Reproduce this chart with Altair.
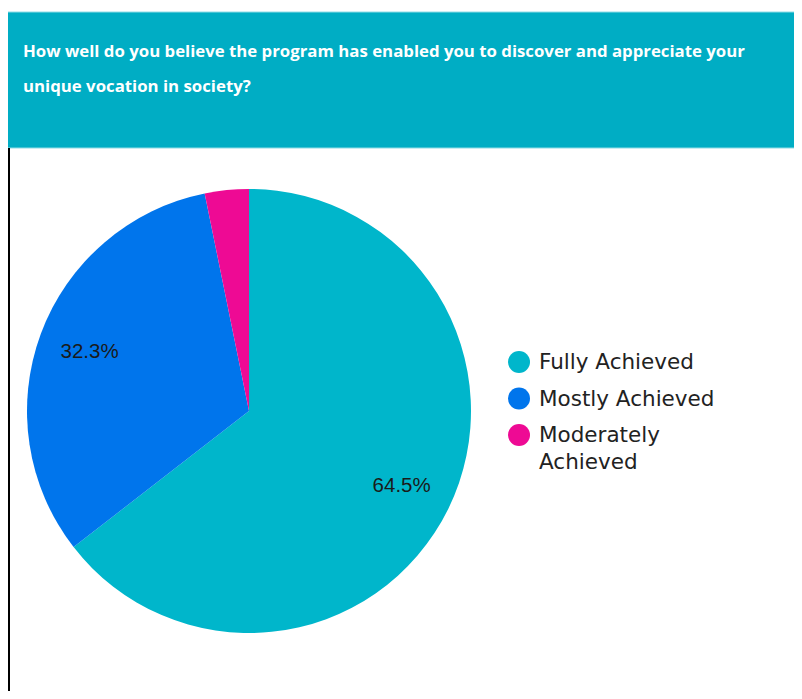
import altair as alt
import pandas as pd

# ---- data ----
categories = ["Fully Achieved", "Mostly Achieved", "Moderately Achieved"]
percents = [64.5, 32.3, 3.2]
slice_labels = ["64.5%", "32.3%", ""]
legend_text = ["Fully Achieved", "Mostly Achieved", "Moderately\nAchieved"]
colors = ["#00B6CB", "#0075EC", "#EE0A94"]
title_lines = [
    "How well do you believe the program has enabled you to discover and appreciate your",
    "unique vocation in society?",
]

df = pd.DataFrame({
    "cat": categories,
    "pct": percents,
    "idx": list(range(len(categories))),
    "label": slice_labels,
    "legend": legend_text,
})
title_df = pd.DataFrame({"line": title_lines, "row": list(range(len(title_lines)))})

W, H = 786, 683
CX, CY, R = 241, 403, 222

color = alt.Color("cat:N", scale=alt.Scale(domain=categories, range=colors), legend=None)
theta = alt.Theta("pct:Q", stack=True)
order = alt.Order("idx:Q")

base = alt.Chart(df)

header = alt.Chart(df).transform_filter("datum.idx == 0").mark_rect(
    color="#00ADC4", stroke="#8FDCE6", strokeWidth=1
).encode(x=alt.value(-2), x2=alt.value(W + 2), y=alt.value(4), y2=alt.value(140))

border = alt.Chart(df).transform_filter("datum.idx == 0").mark_rule(
    color="#000000", strokeWidth=2
).encode(x=alt.value(1), y=alt.value(140), y2=alt.value(H))

title = alt.Chart(title_df).mark_text(
    align="left", baseline="alphabetic", font="Open Sans", fontWeight="bold",
    fontSize=16.8, color="#FFFFFF"
).encode(
    x=alt.value(15),
    y=alt.Y("row:Q", scale=alt.Scale(domain=[0, 1], range=[49, 84]), axis=None),
    text="line:N",
)

pie = base.mark_arc(outerRadius=R).encode(
    theta=theta, color=color, order=order, x=alt.value(CX), y=alt.value(CY)
)

pie_labels = base.mark_text(
    radius=170, fontSize=20.5, font="Liberation Sans Narrow, Liberation Sans",
    color="#1a1a1a"
).encode(theta=theta, order=order, text="label:N", x=alt.value(CX), y=alt.value(CY))

legend_y = alt.Y("idx:Q", scale=alt.Scale(domain=[0, 2], range=[354, 427]), axis=None)

legend_dots = base.mark_circle(size=484, opacity=1).encode(
    x=alt.value(511), y=legend_y, color=color
)

legend_labels = base.mark_text(
    align="left", baseline="alphabetic", dy=7, fontSize=21.5, lineHeight=27,
    lineBreak="\n", font="DejaVu Sans", color="#222222"
).encode(x=alt.value(531), y=legend_y, text="legend:N")

chart = alt.layer(
    header, border, title, pie, pie_labels, legend_dots, legend_labels
).resolve_scale(y="independent").properties(
    width=W, height=H, autosize=alt.AutoSizeParams(type="none"), padding=0,
    background="#FFFFFF",
).configure_view(stroke=None)

chart.save("out.html", embed_options={"renderer": "svg", "actions": False})
